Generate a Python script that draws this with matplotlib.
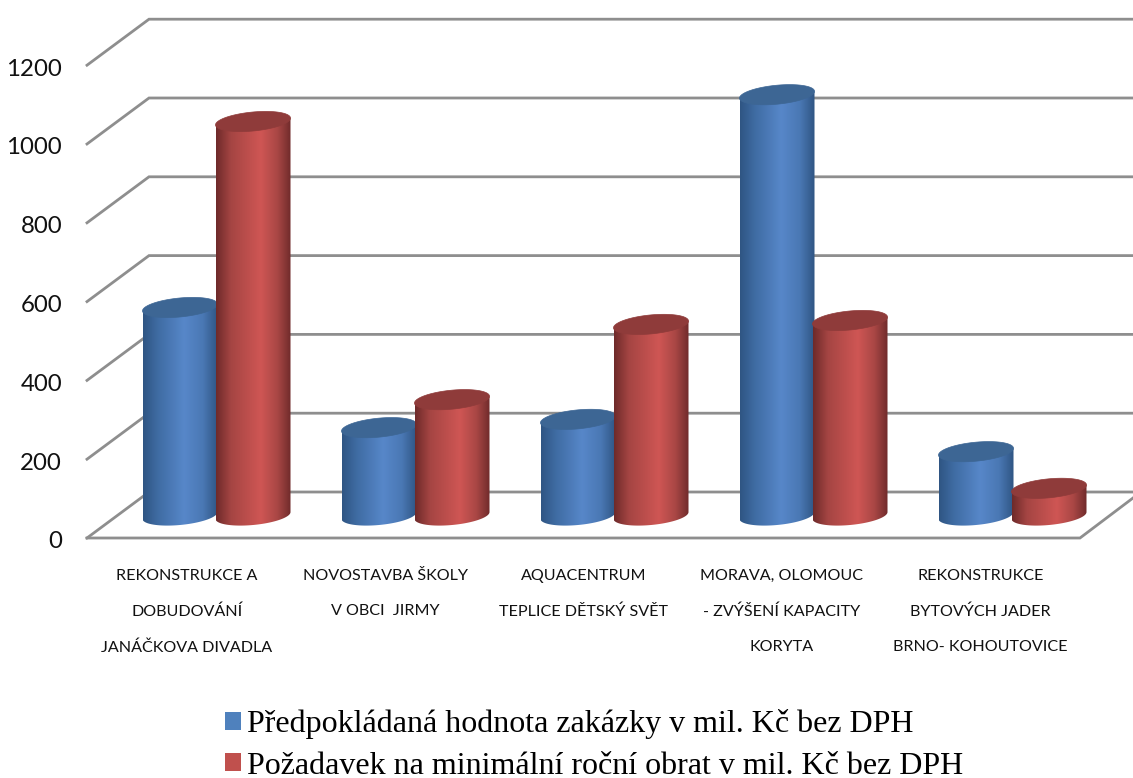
import numpy as np
import matplotlib
matplotlib.use("Agg")
import matplotlib.pyplot as plt
from matplotlib.colors import LinearSegmentedColormap
from matplotlib.patches import Patch, Polygon
from matplotlib.transforms import ScaledTranslation

categories = [
    "REKONSTRUKCE A\nDOBUDOVÁNÍ\nJANÁČKOVA DIVADLA",
    "NOVOSTAVBA ŠKOLY\nV OBCI  JIRMY\n ",
    "AQUACENTRUM\nTEPLICE DĚTSKÝ SVĚT\n ",
    "MORAVA, OLOMOUC\n- ZVÝŠENÍ KAPACITY\nKORYTA",
    "REKONSTRUKCE\nBYTOVÝCH JADER\nBRNO- KOHOUTOVICE",
]
series_a = [528, 223, 244, 1068, 162]
series_b = [1000, 294, 485, 495, 69]
series_names = [
    "Předpokládaná hodnota zakázky v mil. Kč bez DPH",
    "Požadavek na minimální roční obrat v mil. Kč bez DPH",
]
yticks = [0, 200, 400, 600, 800, 1000, 1200]

W, H = 1133, 778
PX_PER_CAT = 199.0
PX_PER_VAL = 0.394
X0_PX, Y0_PX = 217.0, 538.0


def dx(p):
    return p / PX_PER_CAT


def dy(p):
    return p / PX_PER_VAL


fig = plt.figure(figsize=(W / 100, H / 100), dpi=100)
ax = fig.add_axes([87 / W, (H - Y0_PX) / H, (W - 87) / W, Y0_PX / H])
ax.patch.set_alpha(0)
xlim = ((87 - X0_PX) / PX_PER_CAT, (W - X0_PX) / PX_PER_CAT)
ylim = (0, Y0_PX / PX_PER_VAL)

GRID = "#8e8e8e"
DEPTH_X, DEPTH_Y = 62, 46
for v in yticks:
    ax.plot([xlim[0], xlim[0] + dx(DEPTH_X), xlim[1]],
            [v, v + dy(DEPTH_Y), v + dy(DEPTH_Y)],
            color=GRID, lw=2.0, solid_joinstyle="miter", clip_on=False, zorder=1)
floor_x = xlim[0] + dx(993)
ax.plot([xlim[0], floor_x, floor_x + dx(53)], [0, 0, dy(40)],
        color=GRID, lw=2.0, solid_joinstyle="miter", clip_on=False, zorder=1)

CMAP_A = LinearSegmentedColormap.from_list(
    "a", [(0, "#2f5583"), (0.2, "#3f6ca3"), (0.55, "#5787c9"), (0.8, "#4a78b4"), (1, "#2f5583")])
CMAP_B = LinearSegmentedColormap.from_list(
    "b", [(0, "#6e2a2a"), (0.2, "#a54543"), (0.6, "#cf5654"), (0.82, "#a94745"), (1, "#702b2b")])
TOP_A, TOP_B = "#3d6694", "#8f3b3a"

HALF_W = 37.5
RY = 9.5
TILT = 3.4
BASE_PX = 22.5          # base centre above the front floor line
t = np.linspace(0, 2 * np.pi, 181)


def ellipse(cx_px_offset, cat, value):
    """Sheared ellipse outline in data coordinates."""
    x = cat + dx(cx_px_offset + HALF_W * np.cos(t))
    y = value + dy(BASE_PX + RY * np.sin(t) + TILT * np.cos(t))
    return x, y


def cylinder(cat, offset, value, cmap, top_color, z):
    ex1, ey1 = ellipse(offset, cat, value)
    lower = t[:91]
    bx = cat + dx(offset + HALF_W * np.cos(np.pi + lower))
    by = dy(BASE_PX - RY * np.sin(lower) + TILT * np.cos(np.pi + lower))
    tx = bx[::-1]
    ty = value + dy(BASE_PX + TILT * np.cos(np.pi + lower))[::-1]
    body = Polygon(np.column_stack([np.r_[bx, tx], np.r_[by, ty]]), closed=True,
                   fc="none", ec="none", zorder=z)
    ax.add_patch(body)
    grad = np.linspace(0, 1, 256).reshape(1, -1)
    im = ax.imshow(grad, cmap=cmap, aspect="auto", zorder=z, interpolation="bilinear",
                   extent=(cat + dx(offset - HALF_W), cat + dx(offset + HALF_W),
                           0, value + dy(BASE_PX + TILT + 2)))
    im.set_clip_path(body)
    ax.fill(ex1, ey1, color=top_color, lw=0.5, zorder=z + 0.1)


for i, (a, b) in enumerate(zip(series_a, series_b)):
    z = 2 + i
    cylinder(i, -37, a, CMAP_A, TOP_A, z)
    cylinder(i, 36, b, CMAP_B, TOP_B, z + 0.3)

ax.set_xlim(*xlim)
ax.set_ylim(*ylim)
for s in ax.spines.values():
    s.set_visible(False)
ax.set_yticks(yticks, [str(v) for v in yticks], family="Lato", fontsize=17.3, color="#111111")
ax.tick_params(axis="y", length=0, pad=18)
shift = ScaledTranslation(0, -2 / 100, fig.dpi_scale_trans)
for lab in ax.get_yticklabels():
    lab.set_transform(lab.get_transform() + shift)
ax.set_xticks(np.arange(len(categories)) * (198.3 / PX_PER_CAT) - dx(30), categories, family="Lato",
              fontsize=11.6, color="#111111", linespacing=2.88)
ax.tick_params(axis="x", length=0, pad=22.5)

handles = [Patch(fc="#4f81bd", ec="none"), Patch(fc="#c0504d", ec="none")]
fig.legend(handles, series_names, loc="upper left", bbox_to_anchor=(225 / W, 1 - 709 / H),
           frameon=False, prop={"family": "Liberation Serif", "size": 23.05},
           handlelength=0.49, handleheight=0.49, handletextpad=0.2,
           labelspacing=0.4, borderpad=0, borderaxespad=0)

fig.savefig("out.png", dpi=100)
